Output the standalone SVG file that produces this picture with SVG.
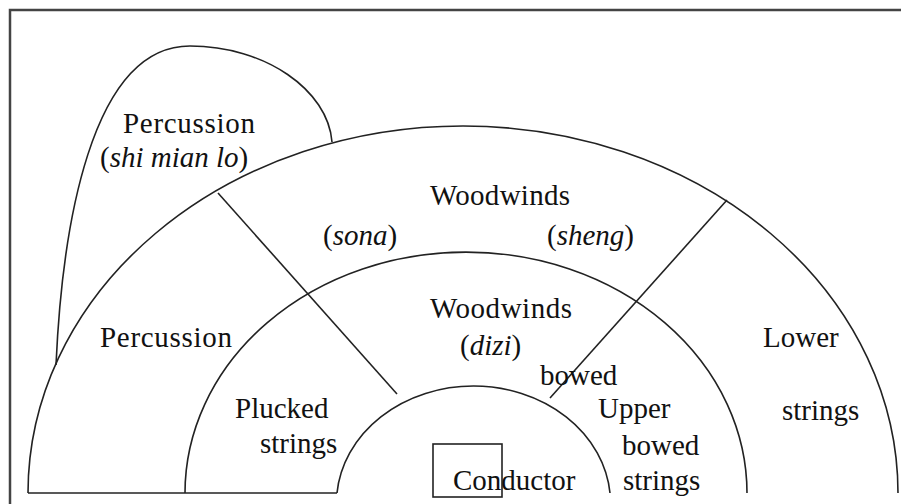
<svg xmlns="http://www.w3.org/2000/svg" width="901" height="504" viewBox="0 0 901 504">
<style>
.ln{fill:none;stroke:#222;stroke-width:1.6}
text{font-family:'Liberation Serif','DejaVu Serif',serif;font-size:29px;fill:#111}
.i{font-style:italic}
</style>
<rect width="901" height="504" fill="#fff"/>
<rect x="10" y="10" width="900" height="500" fill="none" stroke="#444" stroke-width="2.5"/>
<g id="connectors">
<path class="ln" d="M56 365 C62 230 90 46 190 46 C265 46 328 90 332 142"/>
<path class="ln" d="M28 493 A435 367 0 0 1 898 493"/>
<path class="ln" d="M185 493 A281 241 0 0 1 747 493"/>
<path class="ln" d="M337 493 A137 117 0 0 1 610 493"/>
<path class="ln" d="M28 493 H337" stroke-width="2"/>
<path class="ln" d="M218 193 L397 394"/>
<path class="ln" d="M727 200 L550 398"/>
</g>
<g id="percussion-shi-mian-lo" font-family="Liberation Serif, serif">
<text x="123" y="133" textLength="132">Percussion</text>
<text x="100" y="167">(<tspan class="i">shi mian lo</tspan>)</text>
</g>
<g id="woodwinds-outer" font-family="Liberation Serif, serif">
<text x="430" y="205" textLength="140">Woodwinds</text>
<text x="323" y="245">(<tspan class="i">sona</tspan>)</text>
<text x="547" y="245">(<tspan class="i">sheng</tspan>)</text>
</g>
<g id="woodwinds-inner" font-family="Liberation Serif, serif">
<text x="430" y="318" textLength="142">Woodwinds</text>
<text x="460" y="355">(<tspan class="i">dizi</tspan>)</text>
</g>
<g id="percussion" font-family="Liberation Serif, serif">
<text x="100" y="347" textLength="132">Percussion</text>
</g>
<g id="lower-strings" font-family="Liberation Serif, serif">
<text x="763" y="347">Lower</text>
<text x="782" y="420">strings</text>
</g>
<g id="upper-bowed-strings" font-family="Liberation Serif, serif">
<text x="540" y="385">bowed</text>
<text x="598" y="418">Upper</text>
<text x="622" y="455">bowed</text>
<text x="623" y="490">strings</text>
</g>
<g id="plucked-strings" font-family="Liberation Serif, serif">
<text x="235" y="418">Plucked</text>
<text x="260" y="453">strings</text>
</g>
<g id="conductor" font-family="Liberation Serif, serif">
<rect class="ln" x="433" y="444" width="69" height="53"/>
<text x="453" y="490">Conductor</text>
</g>
</svg>
